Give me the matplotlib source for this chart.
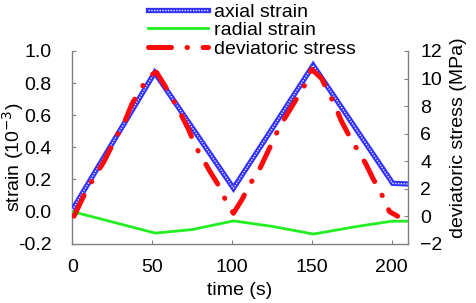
import matplotlib
matplotlib.use("Agg")
import matplotlib.pyplot as plt
from matplotlib.legend_handler import HandlerTuple

plt.rcParams['font.family'] = ['Liberation Sans', 'DejaVu Sans']
plt.rcParams['font.size'] = 14

# axial strain (10^-3) vs time (s)
t_axial = [0, 51.6, 100.9, 150.8, 200.6, 210]
axial = [0.01, 0.866, 0.145, 0.911, 0.176, 0.172]

# radial strain (10^-3)
t_radial = [0, 52, 75, 101, 125, 151, 178, 200, 210]
radial = [0.0, -0.134, -0.112, -0.058, -0.092, -0.14, -0.093, -0.06, -0.06]

# deviatoric stress (MPa)
t_stress = [1.1, 8.4, 14.2, 19.8, 28.2, 33.4, 37.5, 42.7, 47.3, 52.7,
            58.3, 66.6, 72.8, 77.0, 86.3, 92.1, 96.8, 100.9,
            106.1, 111.3, 117.5, 125.4, 130.0, 136.2, 145.6, 149.8,
            156.0, 164.3, 168.4, 173.6, 183.6, 188.2, 193.4, 198.6, 203.7]
stress = [0.0, 1.78, 2.92, 3.96, 5.9, 7.04, 8.2, 9.17, 10.14, 10.46,
          9.41, 7.72, 6.3, 5.1, 3.23, 2.14, 0.94, 0.21,
          1.18, 2.34, 3.48, 5.41, 6.55, 7.72, 9.53, 10.67,
          10.02, 8.08, 6.94, 5.78, 3.84, 2.75, 1.66, 0.33, 0.0]

fig = plt.figure(figsize=(4.77, 3.03), dpi=100)
ax = fig.add_axes([0.1516, 0.1957, 0.7031, 0.636])
ax2 = ax.twinx()

blue, = ax.plot(t_axial, axial, color='#3030ff', lw=3.8, solid_joinstyle='miter', zorder=3)
dots, = ax.plot(t_axial, axial, color='#e8e8ff', lw=1.0, linestyle=(0, (1, 1)), zorder=4)
green, = ax.plot(t_radial, radial, color='#22ee22', lw=2, zorder=3)
red, = ax2.plot(t_stress, stress, color='#ff0a0a', lw=3.6,
                linestyle=(0, (4.6, 3.1, 0.1, 3.1)), dash_capstyle='round', zorder=2)

ax.set_xlim(0, 210)
ax.set_ylim(-0.2, 1.0)
ax2.set_ylim(-2, 12)
ax.set_xticks([0, 50, 100, 150, 200])
ax.set_yticks([-0.2, 0.0, 0.2, 0.4, 0.6, 0.8, 1.0])
ax.set_yticklabels(['-0.2', '0.0', '0.2', '0.4', '0.6', '0.8', '1.0'])
ax2.set_yticks([-2, 0, 2, 4, 6, 8, 10, 12])

for a in (ax, ax2):
    a.spines['top'].set_visible(False)
    for s in a.spines.values():
        s.set_color('#808080')
        s.set_linewidth(1)
ax2.spines['left'].set_visible(False)
ax2.spines['bottom'].set_visible(False)
ax.spines['right'].set_visible(False)

ax.tick_params(axis='y', direction='in', length=3, color='#808080', pad=15)
ax.tick_params(axis='x', direction='in', length=3, color='#808080', pad=11)
ax2.tick_params(axis='y', direction='in', length=3, color='#808080', pad=9)

ax.set_xlabel('time (s)', labelpad=4)
ax.set_ylabel('strain (10$^{-3}$)')
ax.yaxis.set_label_coords(-0.137, 0.45)
ax2.set_ylabel('deviatoric stress (MPa)')
ax2.yaxis.set_label_coords(1.125, 0.548)

fig.legend([(blue, dots), green, red], ['axial strain', 'radial strain', 'deviatoric stress'],
           handler_map={tuple: HandlerTuple(ndivide=1)},
           loc='upper left', bbox_to_anchor=(0.29, 1.022), frameon=False,
           handlelength=3.1, handletextpad=0.3, labelspacing=0.05, borderpad=0)

fig.savefig('out.png', dpi=100)
